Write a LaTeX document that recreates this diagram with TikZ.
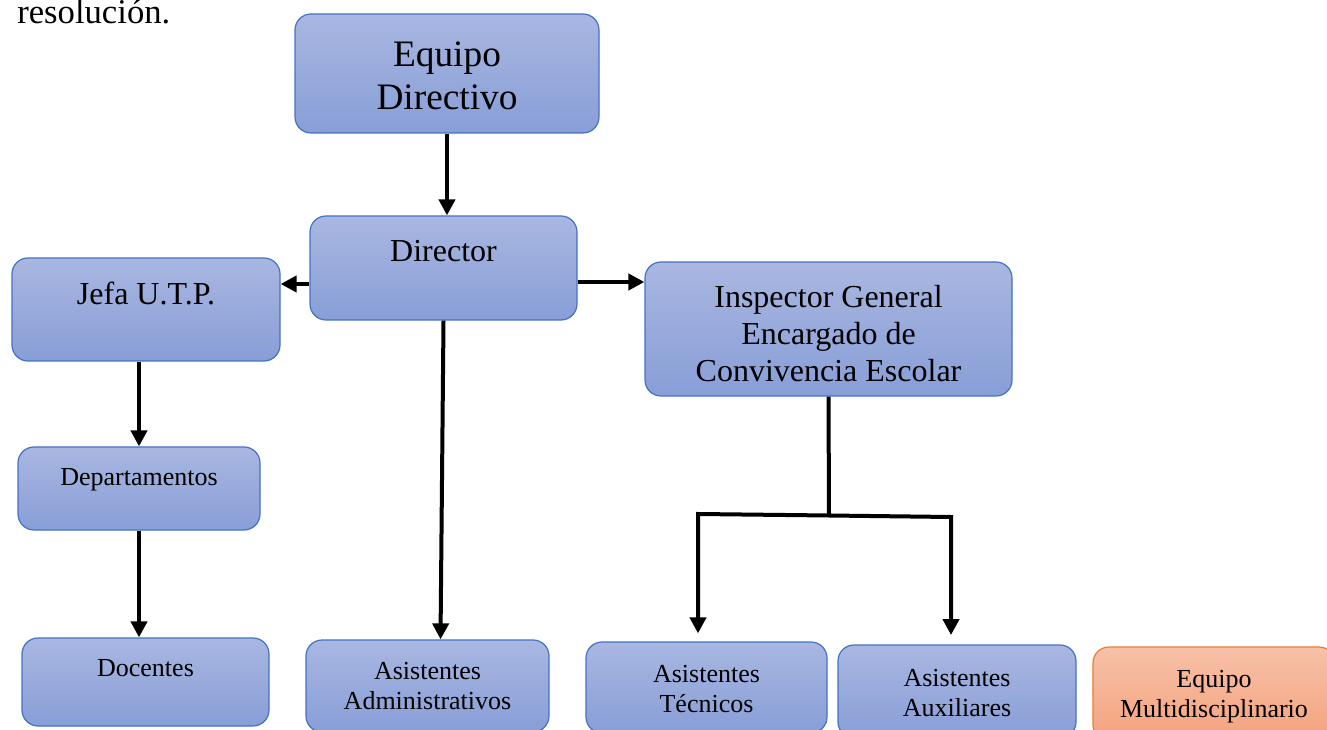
\documentclass[tikz,border=0pt]{standalone}
\usepackage{fontspec}
\setmainfont{Liberation Serif}
\usetikzlibrary{arrows.meta,calc}
\definecolor{bluetop}{HTML}{A9B7E1}
\definecolor{bluebot}{HTML}{889ED7}
\definecolor{blueedge}{HTML}{4472C4}
\definecolor{orgtop}{HTML}{F7C1A8}
\definecolor{orgbot}{HTML}{F4A27D}
\definecolor{orgedge}{HTML}{ED7D31}
\tikzset{
  box/.style={draw=blueedge, line width=0.9pt, rounded corners=12pt, top color=bluetop, bottom color=bluebot, align=center, inner sep=0pt, text=black},
  obox/.style={box, draw=orgedge, top color=orgtop, bottom color=orgbot},
  bigtxt/.style={font=\fontsize{28}{32}\selectfont},
  midtxt/.style={font=\fontsize{24}{27.75}\selectfont},
  smalltxt/.style={font=\fontsize{19.5}{22.5}\selectfont},
  conn/.style={line width=3pt, draw=black},
  arr/.style={conn, -{Triangle[length=12pt,width=12pt]}},
}
\begin{document}
\begin{tikzpicture}[x=0.75pt,y=-0.75pt]
\useasboundingbox (0,0) rectangle (1327,730);
\clip (0,0) rectangle (1327,730);
\node[anchor=base west, inner sep=0pt, font=\fontsize{26}{30}\selectfont] (res) at (17,24) {resolución.};

\node[box, bigtxt, minimum width=0.75*304pt, minimum height=0.75*119pt] (eq) at (447,73.5) {\rule{0pt}{22pt}Equipo\\Directivo};
\node[box, midtxt, minimum width=0.75*267pt, minimum height=0.75*104pt, text height=17pt, text depth=26pt] (dir) at (443.5,268) {Director};
\node[box, midtxt, minimum width=0.75*268pt, minimum height=0.75*103pt, text height=17pt, text depth=23.8pt] (jefa) at (146,309.5) {Jefa U.T.P.};
\node[box, midtxt, minimum width=0.75*367pt, minimum height=0.75*134pt] (insp) at (828.5,329) {\rule{0pt}{24pt}Inspector General\\Encargado de\\Convivencia Escolar};
\node[box, smalltxt, minimum width=0.75*242pt, minimum height=0.75*83pt, text height=13pt, text depth=17.5pt] (dep) at (139,488.5) {Departamentos};
\node[box, smalltxt, minimum width=0.75*247pt, minimum height=0.75*88pt, text height=13pt, text depth=21.2pt] (doc) at (145.5,682) {Docentes};
\node[box, smalltxt, minimum width=0.75*243pt, minimum height=0.75*92pt] (adm) at (427.5,686) {Asistentes\\Administrativos};
\node[box, smalltxt, minimum width=0.75*241pt, minimum height=0.75*91pt] (tec) at (706.5,687.5) {\rule{0pt}{14.5pt}Asistentes\\Técnicos};
\node[box, smalltxt, minimum width=0.75*238pt, minimum height=0.75*93pt] (aux) at (957,691.5) {\rule{0pt}{14.5pt}Asistentes\\Auxiliares};
\node[obox, smalltxt, minimum width=0.75*242pt, minimum height=0.75*94pt] (multi) at (1214,694) {\rule{0pt}{17pt}Equipo\\Multidisciplinario};

% connectors
\draw[arr] (eq.south) -- (eq.south |- dir.north);
\draw[arr] ($(dir.west)+(0,16)$) -- ($(jefa.east |- dir.west)+(0,16)$);
\draw[arr] ($(dir.east)+(0,14)$) -- ($(insp.west |- dir.east)+(0,14)$);
\draw[arr] (dir.south) -- ($(adm.north)+(13,0)$);
\draw[arr] (dep.north |- jefa.south) -- (dep.north);
\draw[arr] (dep.south) -- (dep.south |- doc.north);
\coordinate (j) at (829,515.5);
\coordinate (tl) at (698,514);
\coordinate (tr) at (951,517);
\draw[conn] (insp.south) -- (j);
\draw[arr, line join=miter] (j) -- (tl) -- ([yshift=6]tl |- tec.north);
\draw[arr, line join=miter] (j) -- (tr) -- ([yshift=7]tr |- aux.north);
\end{tikzpicture}
\end{document}
